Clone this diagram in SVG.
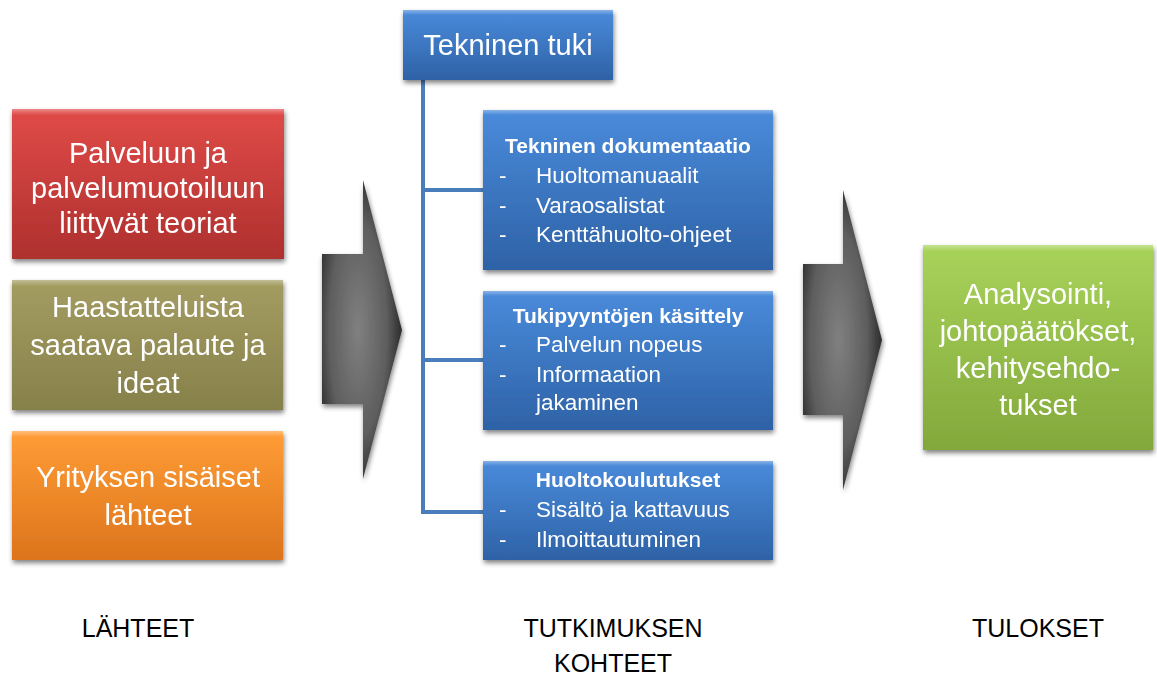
<svg xmlns="http://www.w3.org/2000/svg" width="1157" height="678" viewBox="0 0 1157 678">
<style>
.big{font-family:"Liberation Sans",Arial,sans-serif;font-size:29px;fill:#fff;text-anchor:middle}
.hd{font-family:"Liberation Sans",Arial,sans-serif;font-size:21px;font-weight:bold;fill:#fff;text-anchor:middle}
.it{font-family:"Liberation Sans",Arial,sans-serif;font-size:22.5px;fill:#fff}
.lbl{font-family:"Liberation Sans",Arial,sans-serif;font-size:25px;fill:#000;text-anchor:middle}
.con{stroke:#4A7EBB;stroke-width:4;fill:none}
</style>
<defs>
<filter id="sh" x="-10%" y="-10%" width="125%" height="130%">
<feGaussianBlur in="SourceAlpha" stdDeviation="2.5"/>
<feOffset dx="1" dy="3" result="b"/>
<feComponentTransfer><feFuncA type="linear" slope="0.5"/></feComponentTransfer>
<feMerge><feMergeNode/><feMergeNode in="SourceGraphic"/></feMerge>
</filter>
<linearGradient id="gRed" x1="0" y1="0" x2="0" y2="1"><stop offset="0" stop-color="#E04B48"/><stop offset="1" stop-color="#AE302E"/></linearGradient>
<linearGradient id="gOl" x1="0" y1="0" x2="0" y2="1"><stop offset="0" stop-color="#A49D62"/><stop offset="1" stop-color="#86804A"/></linearGradient>
<linearGradient id="gOr" x1="0" y1="0" x2="0" y2="1"><stop offset="0" stop-color="#FF9D36"/><stop offset="1" stop-color="#DC741C"/></linearGradient>
<linearGradient id="gBl" x1="0" y1="0" x2="0" y2="1"><stop offset="0" stop-color="#4A8BDB"/><stop offset="1" stop-color="#2E62A6"/></linearGradient>
<linearGradient id="gGr" x1="0" y1="0" x2="0" y2="1"><stop offset="0" stop-color="#A8D35A"/><stop offset="1" stop-color="#82A83B"/></linearGradient>
<linearGradient id="hl" x1="0" y1="0" x2="0" y2="1"><stop offset="0" stop-color="#fff" stop-opacity="0.35"/><stop offset="1" stop-color="#fff" stop-opacity="0"/></linearGradient>
<radialGradient id="gAr" cx="0.45" cy="0.5" r="0.6"><stop offset="0" stop-color="#808080"/><stop offset="0.6" stop-color="#5E5E5E"/><stop offset="1" stop-color="#1E1E1E"/></radialGradient>
</defs>

<g id="arrow-left" filter="url(#sh)">
<polygon points="322,254 363,254 363,180 402,330 363,479 363,404 322,404" fill="url(#gAr)"/>
</g>
<g id="arrow-right" filter="url(#sh)">
<polygon points="803,264 843,264 843,190 882,340 843,490 843,415 803,415" fill="url(#gAr)"/>
</g>

<g id="connectors">
<path class="con" d="M423,80 V512"/>
<path class="con" d="M421,190 H483"/>
<path class="con" d="M421,360 H483"/>
<path class="con" d="M421,512 H483"/>
</g>

<g id="n-teoriat" filter="url(#sh)">
<rect x="12" y="109" width="272" height="150" fill="url(#gRed)"/>
<rect x="12" y="109" width="272" height="6" fill="url(#hl)"/>
<text class="big" x="148" y="163">Palveluun ja</text>
<text class="big" x="148" y="198">palvelumuotoiluun</text>
<text class="big" x="148" y="233">liittyvät teoriat</text>
</g>
<g id="n-haastattelut" filter="url(#sh)">
<rect x="12" y="280" width="271" height="130" fill="url(#gOl)"/>
<rect x="12" y="280" width="271" height="6" fill="url(#hl)"/>
<text class="big" x="148" y="317">Haastatteluista</text>
<text class="big" x="148" y="355">saatava palaute ja</text>
<text class="big" x="148" y="393">ideat</text>
</g>
<g id="n-lahteet" filter="url(#sh)">
<rect x="12" y="431" width="271" height="129" fill="url(#gOr)"/>
<rect x="12" y="431" width="271" height="6" fill="url(#hl)"/>
<text class="big" x="148" y="487">Yrityksen sisäiset</text>
<text class="big" x="148" y="525">lähteet</text>
</g>

<g id="n-tuki" filter="url(#sh)">
<rect x="403" y="10" width="210" height="70" fill="url(#gBl)"/>
<rect x="403" y="10" width="210" height="5" fill="url(#hl)"/>
<text class="big" x="508" y="55">Tekninen tuki</text>
</g>

<g id="n-dokumentaatio" filter="url(#sh)">
<rect x="483" y="110" width="290" height="160" fill="url(#gBl)"/>
<rect x="483" y="110" width="290" height="5" fill="url(#hl)"/>
<text class="hd" x="628" y="153">Tekninen dokumentaatio</text>
<text class="it" x="499" y="183">-</text><text class="it" x="536" y="183">Huoltomanuaalit</text>
<text class="it" x="499" y="213">-</text><text class="it" x="536" y="213">Varaosalistat</text>
<text class="it" x="499" y="242">-</text><text class="it" x="536" y="242">Kenttähuolto-ohjeet</text>
</g>

<g id="n-tukipyynnot" filter="url(#sh)">
<rect x="483" y="291" width="290" height="139" fill="url(#gBl)"/>
<rect x="483" y="291" width="290" height="5" fill="url(#hl)"/>
<text class="hd" x="628" y="323">Tukipyyntöjen käsittely</text>
<text class="it" x="499" y="352">-</text><text class="it" x="536" y="352">Palvelun nopeus</text>
<text class="it" x="499" y="382">-</text><text class="it" x="536" y="382">Informaation</text>
<text class="it" x="536" y="410">jakaminen</text>
</g>

<g id="n-koulutukset" filter="url(#sh)">
<rect x="483" y="461" width="290" height="99" fill="url(#gBl)"/>
<rect x="483" y="461" width="290" height="5" fill="url(#hl)"/>
<text class="hd" x="628" y="487">Huoltokoulutukset</text>
<text class="it" x="499" y="517">-</text><text class="it" x="536" y="517">Sisältö ja kattavuus</text>
<text class="it" x="499" y="547">-</text><text class="it" x="536" y="547">Ilmoittautuminen</text>
</g>

<g id="n-tulokset" filter="url(#sh)">
<rect x="923" y="245" width="230" height="205" fill="url(#gGr)"/>
<rect x="923" y="245" width="230" height="6" fill="url(#hl)"/>
<text class="big" x="1038" y="304">Analysointi,</text>
<text class="big" x="1038" y="341">johtopäätökset,</text>
<text class="big" x="1038" y="378">kehitysehdo-</text>
<text class="big" x="1038" y="415">tukset</text>
</g>

<g id="labels">
<text class="lbl" x="138" y="637">LÄHTEET</text>
<text class="lbl" x="613" y="637">TUTKIMUKSEN</text>
<text class="lbl" x="613" y="672">KOHTEET</text>
<text class="lbl" x="1038" y="637">TULOKSET</text>
</g>
</svg>
